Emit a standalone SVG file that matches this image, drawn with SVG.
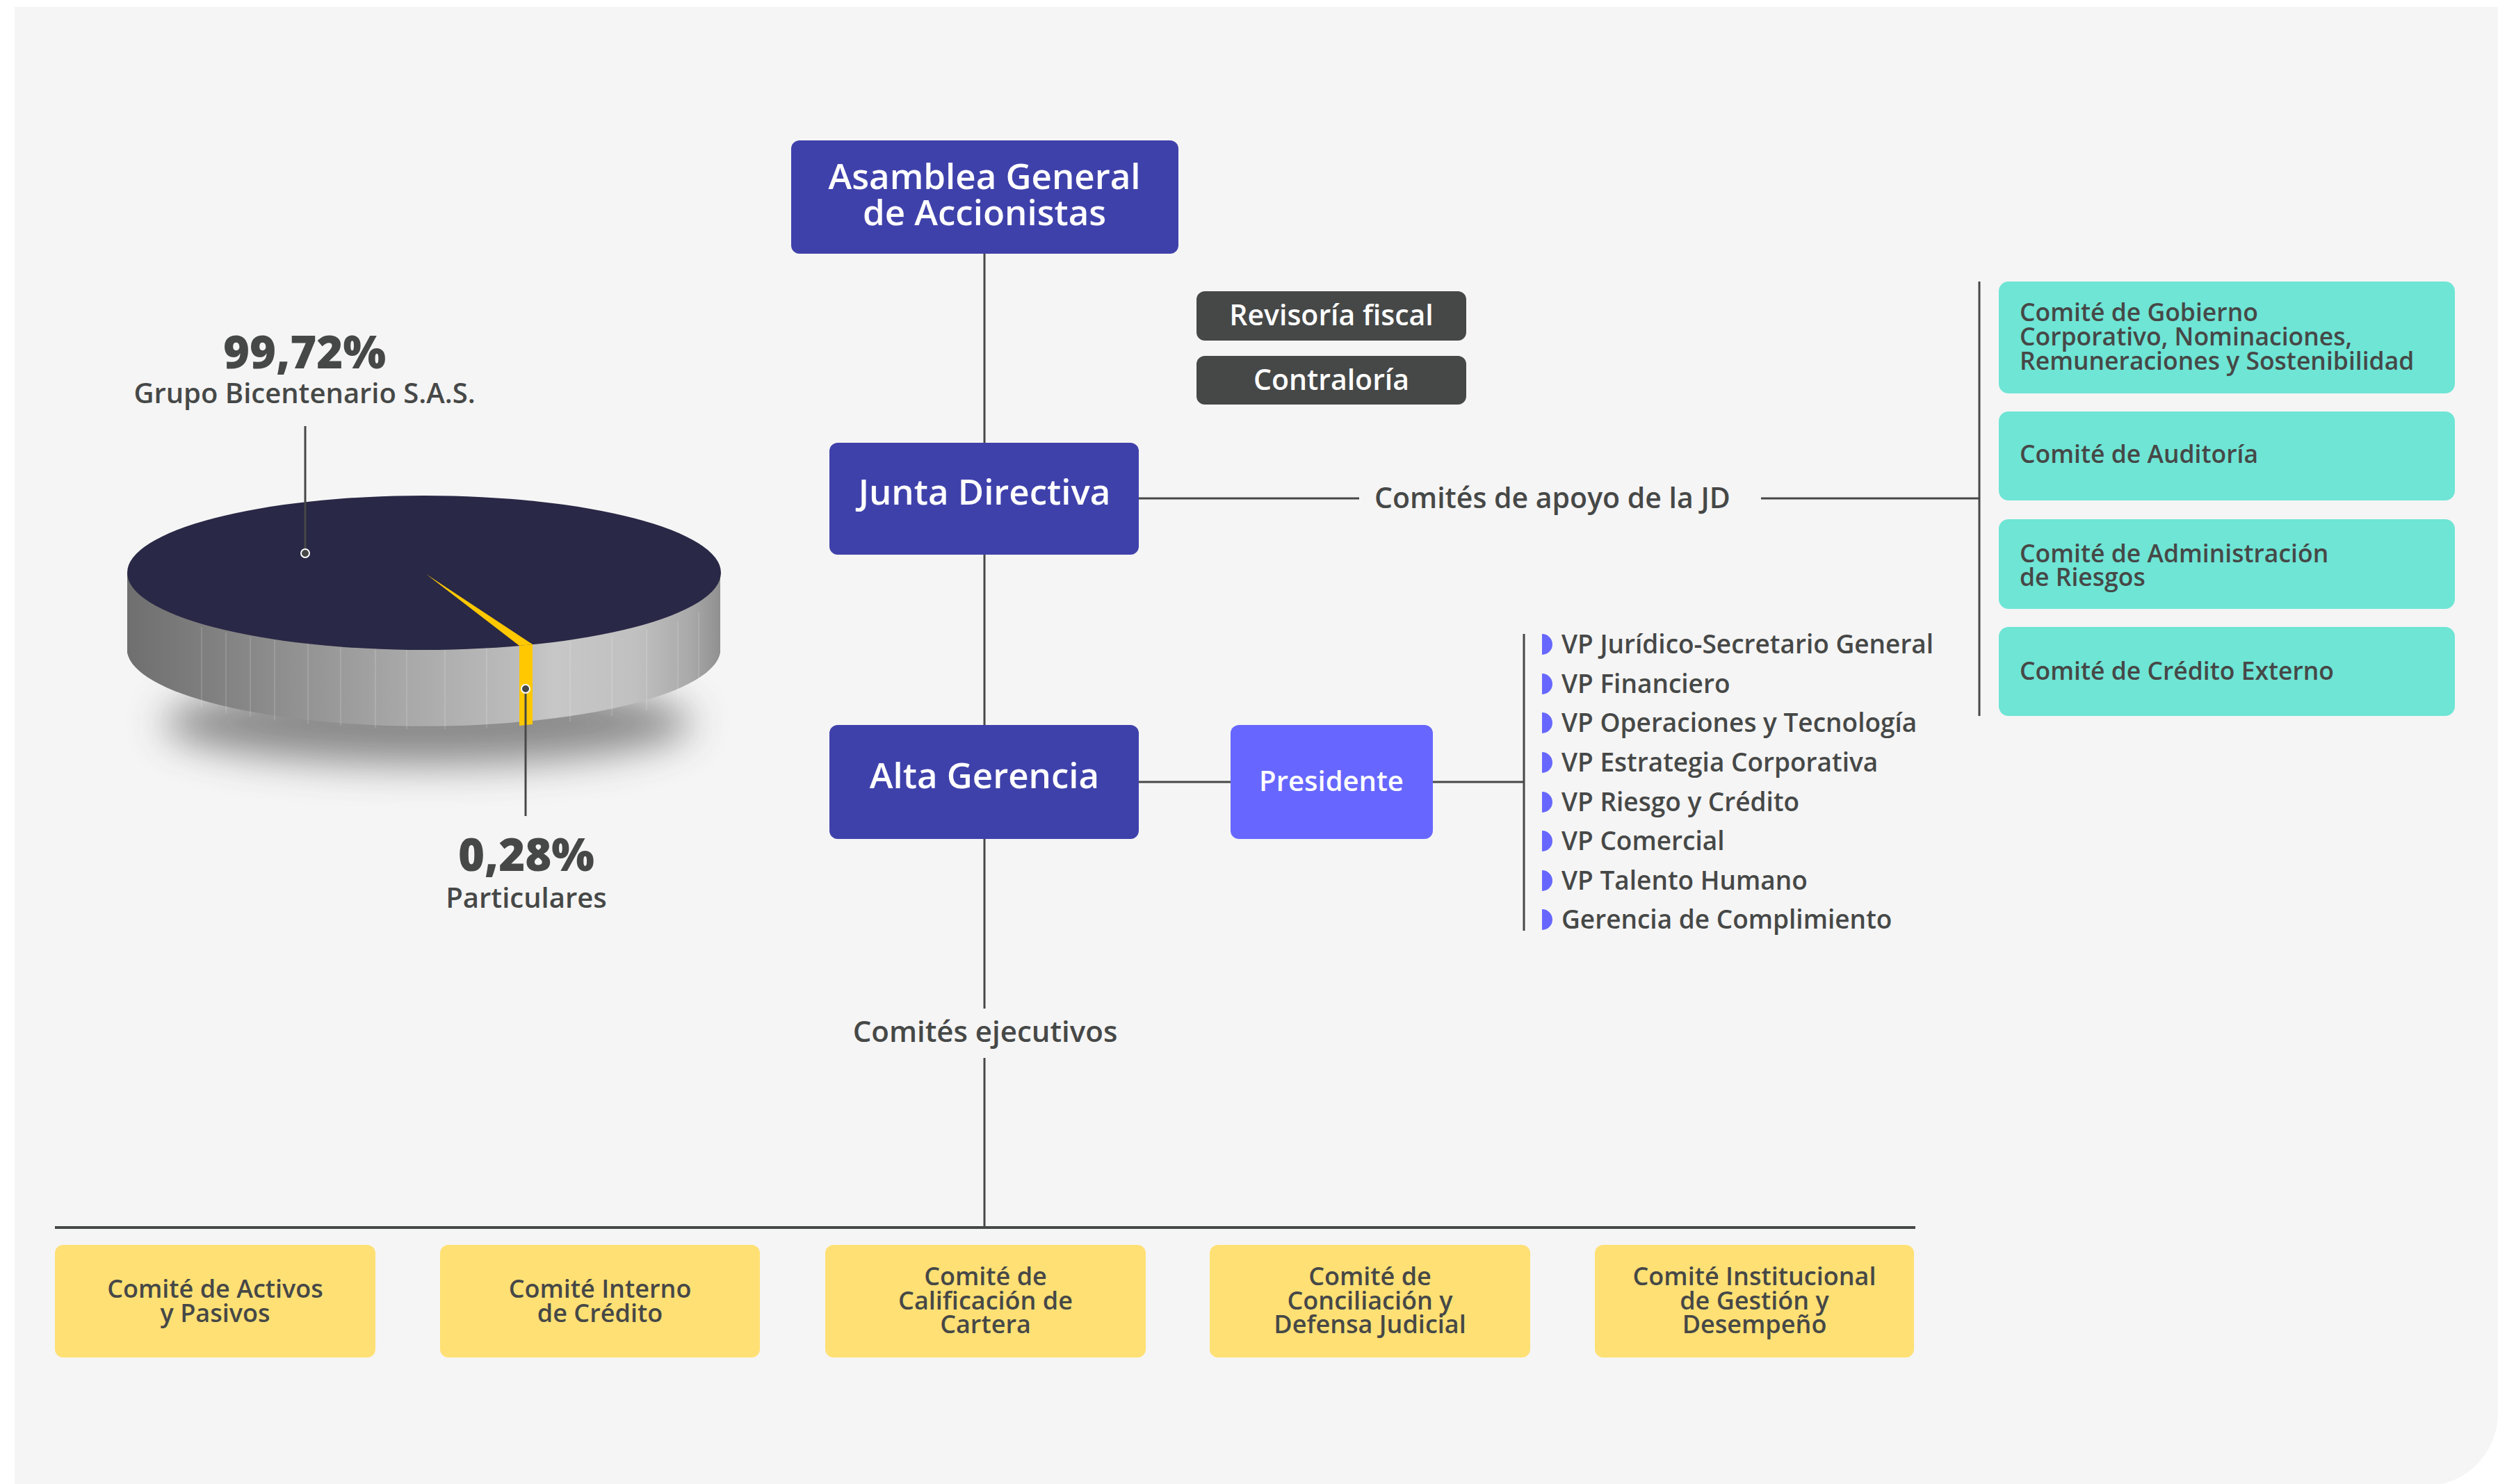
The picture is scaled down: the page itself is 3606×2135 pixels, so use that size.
<svg xmlns="http://www.w3.org/2000/svg" width="3606" height="2135" viewBox="0 0 3606 2135">
<defs>
<style>
text{font-family:"Open Sans","Liberation Sans",sans-serif;font-weight:600;}
.wt{fill:#ffffff;text-anchor:middle;}
.big{font-size:51px;}
.dk{fill:#464847;}
.mid{text-anchor:middle;}
.conn{stroke:#464847;stroke-width:3;fill:none;}
.ind{fill:#3f41ab;}
.gbox{fill:#464847;}
.cy{fill:#6ee5d5;}
.yl{fill:#ffe074;}
.ct{font-size:35.5px;fill:#464847;}
.yt{font-size:36px;fill:#464847;text-anchor:middle;}
.vp{font-size:37px;fill:#464847;}
.bul{fill:#6767ff;}
</style>
<linearGradient id="side" gradientUnits="userSpaceOnUse" x1="183" y1="0" x2="1036" y2="0">
<stop offset="0" stop-color="#6f6f6f"/>
<stop offset="0.2" stop-color="#878787"/>
<stop offset="0.45" stop-color="#a6a6a6"/>
<stop offset="0.66" stop-color="#bcbcbc"/>
<stop offset="0.72" stop-color="#c7c7c7"/>
<stop offset="0.86" stop-color="#c0c0c0"/>
<stop offset="0.95" stop-color="#a9a9a9"/>
<stop offset="1" stop-color="#909090"/>
</linearGradient>
<filter id="blur" x="-50%" y="-100%" width="200%" height="300%">
<feGaussianBlur stdDeviation="28"/>
</filter>
</defs>

<path d="M21 10 H3593 V2033 A105 105 0 0 1 3488 2138 H21 Z" fill="#f5f5f5"/>

<g id="pie">
<ellipse cx="615" cy="1040" rx="380" ry="60" fill="#444" opacity="0.6" filter="url(#blur)"/>
<path d="M183 824 V939 A427 111 0 0 0 1036 939 V824 Z" fill="url(#side)"/>
<g stroke="#ffffff" stroke-opacity="0.18" stroke-width="1.5">
<line x1="290" y1="902" x2="290" y2="1018"/>
<line x1="325" y1="910" x2="325" y2="1026"/>
<line x1="360" y1="916" x2="360" y2="1031"/>
<line x1="395" y1="921" x2="395" y2="1036"/>
<line x1="443" y1="926" x2="443" y2="1041"/>
<line x1="490" y1="930" x2="490" y2="1044"/>
<line x1="540" y1="933" x2="540" y2="1047"/>
<line x1="585" y1="935" x2="585" y2="1049"/>
<line x1="640" y1="935" x2="640" y2="1049"/>
<line x1="700" y1="932" x2="700" y2="1047"/>
<line x1="820" y1="923" x2="820" y2="1038"/>
<line x1="880" y1="916" x2="880" y2="1030"/>
<line x1="930" y1="906" x2="930" y2="1021"/>
<line x1="975" y1="893" x2="975" y2="1008"/>
<line x1="1005" y1="880" x2="1005" y2="995"/>
</g>
<ellipse cx="610" cy="824" rx="427" ry="111" fill="#292846"/>
<path d="M613 826 L747 929 L766 927 Z" fill="#ffc800"/>
<path d="M747 929 L766 927 V1042 L747 1044 Z" fill="#ffc800"/>
</g>

<g id="callouts">
<line class="conn" x1="439" y1="613" x2="439" y2="796"/>
<circle cx="439" cy="796" r="6" fill="#464847" stroke="#ffffff" stroke-width="2"/>
<line class="conn" x1="756" y1="991" x2="756" y2="1174"/>
<circle cx="756" cy="991" r="6" fill="#464847" stroke="#ffffff" stroke-width="2"/>
<text class="dk mid" x="438" y="530" font-size="65" style="font-weight:800">99,72%</text>
<text class="dk mid" x="438" y="580" font-size="40">Grupo Bicentenario S.A.S.</text>
<text class="dk mid" x="757" y="1253" font-size="65" style="font-weight:800">0,28%</text>
<text class="dk mid" x="757" y="1306" font-size="40">Particulares</text>
</g>

<g id="connectors">
<line class="conn" x1="1416" y1="365" x2="1416" y2="637"/>
<line class="conn" x1="1416" y1="798" x2="1416" y2="1043"/>
<line class="conn" x1="1416" y1="1207" x2="1416" y2="1451"/>
<line class="conn" x1="1416" y1="1522" x2="1416" y2="1766"/>
<line x1="79" y1="1766" x2="2755" y2="1766" stroke="#464847" stroke-width="4"/>
<line class="conn" x1="1638" y1="717" x2="1955" y2="717"/>
<line class="conn" x1="2533" y1="717" x2="2847" y2="717"/>
<line class="conn" x1="2847" y1="405" x2="2847" y2="1030"/>
<line class="conn" x1="1638" y1="1125" x2="1770" y2="1125"/>
<line class="conn" x1="2061" y1="1125" x2="2192" y2="1125"/>
<line class="conn" x1="2192" y1="912" x2="2192" y2="1339"/>
</g>

<g id="asamblea">
<rect class="ind" x="1138" y="202" width="557" height="163" rx="12"/>
<text class="wt big" x="1416" y="272">Asamblea General</text>
<text class="wt big" x="1416" y="324">de Accionistas</text>
</g>

<g id="revisoria">
<rect class="gbox" x="1721" y="419" width="388" height="71" rx="12"/>
<text class="wt" x="1915" y="468" font-size="41">Revisoría fiscal</text>
</g>

<g id="contraloria">
<rect class="gbox" x="1721" y="512" width="388" height="70" rx="12"/>
<text class="wt" x="1915" y="561" font-size="41">Contraloría</text>
</g>

<g id="junta">
<rect class="ind" x="1193" y="637" width="445" height="161" rx="12"/>
<text class="wt big" x="1416" y="726">Junta Directiva</text>
</g>

<g id="comites-apoyo-label">
<text class="dk" x="1977" y="731" font-size="41">Comités de apoyo de la JD</text>
</g>

<g id="alta">
<rect class="ind" x="1193" y="1043" width="445" height="164" rx="12"/>
<text class="wt big" x="1416" y="1134">Alta Gerencia</text>
</g>

<g id="presidente">
<rect x="1770" y="1043" width="291" height="164" rx="12" fill="#6767ff"/>
<text class="wt" x="1915" y="1138" font-size="40">Presidente</text>
</g>

<g id="vp-list">
<path class="bul" d="M2218 912 A15 15 0 0 1 2218 942 Z"/>
<text class="vp" x="2246" y="940">VP Jurídico-Secretario General</text>
<path class="bul" d="M2218 969 A15 15 0 0 1 2218 999 Z"/>
<text class="vp" x="2246" y="997">VP Financiero</text>
<path class="bul" d="M2218 1025 A15 15 0 0 1 2218 1055 Z"/>
<text class="vp" x="2246" y="1053">VP Operaciones y Tecnología</text>
<path class="bul" d="M2218 1082 A15 15 0 0 1 2218 1112 Z"/>
<text class="vp" x="2246" y="1110">VP Estrategia Corporativa</text>
<path class="bul" d="M2218 1139 A15 15 0 0 1 2218 1169 Z"/>
<text class="vp" x="2246" y="1167">VP Riesgo y Crédito</text>
<path class="bul" d="M2218 1195 A15 15 0 0 1 2218 1225 Z"/>
<text class="vp" x="2246" y="1223">VP Comercial</text>
<path class="bul" d="M2218 1252 A15 15 0 0 1 2218 1282 Z"/>
<text class="vp" x="2246" y="1280">VP Talento Humano</text>
<path class="bul" d="M2218 1308 A15 15 0 0 1 2218 1338 Z"/>
<text class="vp" x="2246" y="1336">Gerencia de Complimiento</text>
</g>

<g id="comites-ejecutivos-label">
<text class="dk mid" x="1417" y="1499" font-size="42">Comités ejecutivos</text>
</g>

<g id="cy1">
<rect class="cy" x="2875" y="405" width="656" height="161" rx="14"/>
<text class="ct" x="2905" y="462">Comité de Gobierno</text>
<text class="ct" x="2905" y="497">Corporativo, Nominaciones,</text>
<text class="ct" x="2905" y="532">Remuneraciones y Sostenibilidad</text>
</g>
<g id="cy2">
<rect class="cy" x="2875" y="592" width="656" height="128" rx="14"/>
<text class="ct" x="2905" y="666">Comité de Auditoría</text>
</g>
<g id="cy3">
<rect class="cy" x="2875" y="747" width="656" height="129" rx="14"/>
<text class="ct" x="2905" y="809">Comité de Administración</text>
<text class="ct" x="2905" y="843">de Riesgos</text>
</g>
<g id="cy4">
<rect class="cy" x="2875" y="902" width="656" height="128" rx="14"/>
<text class="ct" x="2905" y="978">Comité de Crédito Externo</text>
</g>

<g id="y1">
<rect class="yl" x="79" y="1791" width="461" height="162" rx="12"/>
<text class="yt" x="309.5" y="1867">Comité de Activos</text>
<text class="yt" x="309.5" y="1902">y Pasivos</text>
</g>
<g id="y2">
<rect class="yl" x="633" y="1791" width="460" height="162" rx="12"/>
<text class="yt" x="863" y="1867">Comité Interno</text>
<text class="yt" x="863" y="1902">de Crédito</text>
</g>
<g id="y3">
<rect class="yl" x="1187" y="1791" width="461" height="162" rx="12"/>
<text class="yt" x="1417.5" y="1849">Comité de</text>
<text class="yt" x="1417.5" y="1884">Calificación de</text>
<text class="yt" x="1417.5" y="1918">Cartera</text>
</g>
<g id="y4">
<rect class="yl" x="1740" y="1791" width="461" height="162" rx="12"/>
<text class="yt" x="1970.5" y="1849">Comité de</text>
<text class="yt" x="1970.5" y="1884">Conciliación y</text>
<text class="yt" x="1970.5" y="1918">Defensa Judicial</text>
</g>
<g id="y5">
<rect class="yl" x="2294" y="1791" width="459" height="162" rx="12"/>
<text class="yt" x="2523.5" y="1849">Comité Institucional</text>
<text class="yt" x="2523.5" y="1884">de Gestión y</text>
<text class="yt" x="2523.5" y="1918">Desempeño</text>
</g>
</svg>
